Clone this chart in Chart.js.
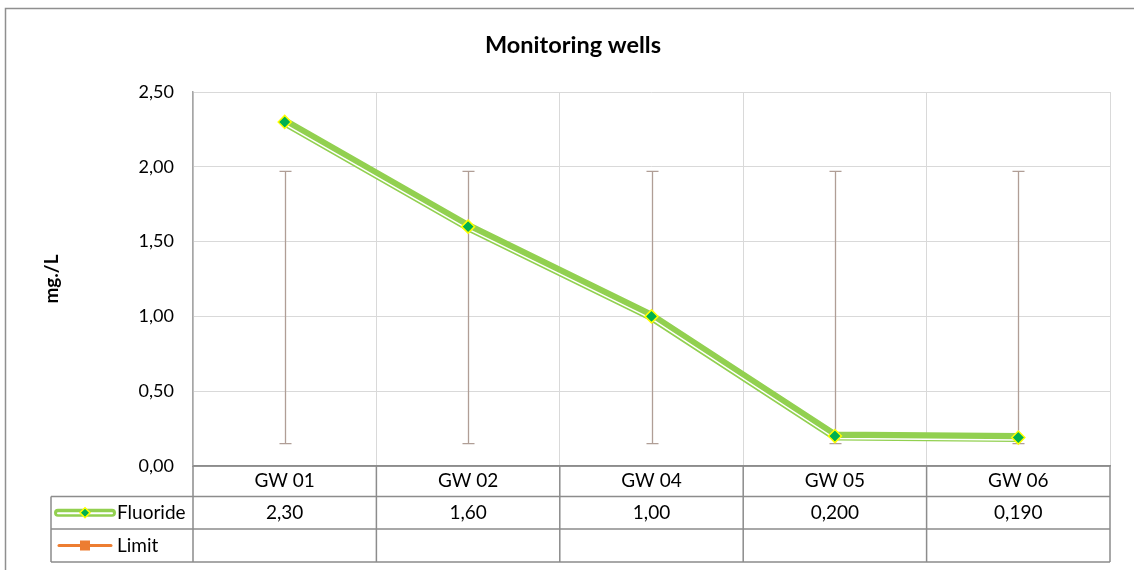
<!DOCTYPE html>
<html>
<head>
<meta charset="utf-8">
<script src="https://cdn.jsdelivr.net/npm/chart.js@4.4.0/dist/chart.umd.min.js"></script>
<style>
    html, body { margin: 0; padding: 0; background: #fff; }
    #wrap { position: relative; width: 1134px; height: 570px; }
</style>
</head>
<body>
<div id="wrap"><canvas id="chart"></canvas></div>
<script>
// data
const wells = ["GW 01", "GW 02", "GW 04", "GW 05", "GW 06"];
const fluoride = [2.30, 1.60, 1.00, 0.200, 0.190];
const limit = [null, null, null, null, null];
const rangeLow = [0.15, 0.15, 0.15, 0.15, 0.15];
const rangeHigh = [1.97, 1.97, 1.97, 1.97, 1.97];
const yTicks = [0, 0.5, 1, 1.5, 2, 2.5];

const FONT = "Lato";
const GREEN = "#92d050";
const DOT = "#00b050";
const DOT_EDGE = "#ffff00";
const ORANGE = "#ed7d31";
const TABLE = "#8c8c8c";
const GRID = "#d9d9d9";
const WHISKER = "#b09e96";

const comma = (s) => s.replace(".", ",");
const cellText = (v) => v == null ? "" : comma(v.toPrecision(3));

// draws a dataset moved down a bit (inner white stripe of the double line)
const shiftPlugin = {
    id: "shift",
    beforeDatasetDraw(chart, args) {
        const ds = chart.data.datasets[args.index];
        if (ds.shiftY) {
            chart.ctx.save();
            chart.ctx.translate(0, ds.shiftY);
        }
    },
    afterDatasetDraw(chart, args) {
        if (chart.data.datasets[args.index].shiftY) chart.ctx.restore();
    }
};

const framePlugin = {
    id: "frame",
    beforeDraw(chart) {
        const ctx = chart.ctx;
        ctx.save();
        ctx.strokeStyle = "#8f8f8f";
        ctx.lineWidth = 1.5;
        ctx.strokeRect(5.5, 8.5, 1400, 800);
        ctx.fillStyle = "#000";
        ctx.font = `bold 23.5px ${FONT}`;
        ctx.textAlign = "center";
        ctx.textBaseline = "middle";
        ctx.fillText("Monitoring wells", 573, 45);
        ctx.restore();
    }
};

const whiskerPlugin = {
    id: "whiskers",
    beforeDatasetsDraw(chart) {
        const {ctx, scales: {x, y}} = chart;
        ctx.save();
        ctx.strokeStyle = WHISKER;
        ctx.lineWidth = 1.3;
        for (let i = 0; i < wells.length; i++) {
            const px = Math.round(x.getPixelForValue(i)) + 0.5;
            const hi = y.getPixelForValue(rangeHigh[i]);
            const lo = y.getPixelForValue(rangeLow[i]);
            ctx.beginPath();
            ctx.moveTo(px, hi);
            ctx.lineTo(px, lo);
            ctx.moveTo(px - 6, hi);
            ctx.lineTo(px + 6, hi);
            ctx.moveTo(px - 6, lo);
            ctx.lineTo(px + 6, lo);
            ctx.stroke();
        }
        ctx.restore();
    }
};

function drawLegendKey(ctx, kind, cx, cy) {
    ctx.save();
    if (kind === "fluoride") {
        ctx.lineCap = "round";
        ctx.strokeStyle = GREEN;
        ctx.lineWidth = 8;
        ctx.beginPath();
        ctx.moveTo(cx - 27, cy);
        ctx.lineTo(cx + 27, cy);
        ctx.stroke();
        ctx.strokeStyle = "#fff";
        ctx.lineWidth = 2;
        ctx.beginPath();
        ctx.moveTo(cx - 27, cy + 0.5);
        ctx.lineTo(cx + 27, cy + 0.5);
        ctx.stroke();
        ctx.fillStyle = DOT;
        ctx.strokeStyle = DOT_EDGE;
        ctx.lineWidth = 1.5;
        ctx.beginPath();
        ctx.moveTo(cx, cy - 5);
        ctx.lineTo(cx + 5, cy);
        ctx.lineTo(cx, cy + 5);
        ctx.lineTo(cx - 5, cy);
        ctx.closePath();
        ctx.fill();
        ctx.stroke();
    } else {
        ctx.lineCap = "round";
        ctx.strokeStyle = ORANGE;
        ctx.lineWidth = 3;
        ctx.beginPath();
        ctx.moveTo(cx - 26, cy);
        ctx.lineTo(cx + 26, cy);
        ctx.stroke();
        ctx.fillStyle = ORANGE;
        ctx.fillRect(cx - 5, cy - 5, 10, 10);
    }
    ctx.restore();
}

// Excel-style data table under the plot
const tablePlugin = {
    id: "dataTable",
    afterDraw(chart) {
        const {ctx, chartArea: area, scales: {x}} = chart;
        const rowH = [30.5, 32.5, 33];
        const legendLeft = 51;
        const top = area.bottom;
        const r1 = top + rowH[0];
        const r2 = r1 + rowH[1];
        const r3 = r2 + rowH[2];
        const n = wells.length;
        const cw = (area.right - area.left) / n;

        ctx.save();
        ctx.strokeStyle = TABLE;
        ctx.lineWidth = 1.5;
        ctx.beginPath();
        ctx.moveTo(area.left, top);
        ctx.lineTo(area.right, top);
        for (const ry of [r1, r2, r3]) {
            ctx.moveTo(legendLeft, ry);
            ctx.lineTo(area.right, ry);
        }
        for (let k = 0; k <= n; k++) {
            const vx = area.left + k * cw;
            ctx.moveTo(vx, top);
            ctx.lineTo(vx, r3);
        }
        ctx.moveTo(legendLeft, r1);
        ctx.lineTo(legendLeft, r3);
        ctx.stroke();

        ctx.fillStyle = "#000";
        ctx.font = `19px ${FONT}`;
        ctx.textBaseline = "middle";
        ctx.textAlign = "center";
        for (let i = 0; i < n; i++) {
            const cx = x.getPixelForValue(i);
            ctx.fillText(wells[i], cx, top + rowH[0] / 2);
            ctx.fillText(cellText(fluoride[i]), cx, r1 + rowH[1] / 2);
            ctx.fillText(cellText(limit[i]), cx, r2 + rowH[2] / 2);
        }
        ctx.textAlign = "left";
        ctx.fillText("Fluoride", 117, r1 + rowH[1] / 2);
        ctx.fillText("Limit", 117, r2 + rowH[2] / 2);
        ctx.restore();

        drawLegendKey(ctx, "fluoride", 85, r1 + rowH[1] / 2);
        drawLegendKey(ctx, "limit", 85, r2 + rowH[2] / 2);
    }
};

new Chart(document.getElementById("chart"), {
    type: "line",
    data: {
        labels: wells,
        datasets: [
            {
                label: "Fluoride",
                data: fluoride,
                showLine: false,
                pointStyle: "rectRot",
                pointRadius: 6.5,
                pointBackgroundColor: DOT,
                pointBorderColor: DOT_EDGE,
                pointBorderWidth: 1.5,
                clip: false,
            },
            {
                label: "Fluoride inner",
                data: fluoride,
                borderColor: "#ffffff",
                borderWidth: 1.5,
                pointRadius: 0,
                shiftY: 2.5,
            },
            {
                label: "Fluoride line",
                data: fluoride,
                borderColor: GREEN,
                borderWidth: 9,
                borderJoinStyle: "round",
                borderCapStyle: "round",
                pointRadius: 0,
            },
            {
                label: "Limit",
                data: limit,
                borderColor: ORANGE,
                backgroundColor: ORANGE,
                borderWidth: 3,
                pointStyle: "rect",
                pointRadius: 5,
            },
        ]
    },
    options: {
        responsive: true,
        maintainAspectRatio: false,
        animation: false,
        layout: {
            padding: {left: 0, right: 24, top: 92, bottom: 0}
        },
        scales: {
            x: {
                offset: true,
                ticks: {display: false},
                grid: {
                    offset: true,
                    color: GRID,
                    drawTicks: false,
                },
                border: {color: TABLE, width: 1.5},
                afterFit: (scale) => { scale.height = 104; },
            },
            y: {
                min: 0,
                max: 2.5,
                afterBuildTicks: (scale) => {
                    scale.ticks = yTicks.map(v => ({value: v}));
                },
                ticks: {
                    color: "#000",
                    padding: 19,
                    font: {family: FONT, size: 18},
                    callback: (value) => comma(Number(value).toFixed(2)),
                },
                grid: {
                    color: GRID,
                    drawTicks: false,
                },
                border: {color: "#a6a6a6", width: 1.5},
                title: {
                    display: true,
                    text: "mg./L",
                    color: "#000",
                    font: {family: FONT, size: 19, weight: "bold"},
                    padding: {top: 40, bottom: 0},
                },
                afterFit: (scale) => { scale.width = 193; },
            }
        },
        plugins: {
            legend: {display: false},
            title: {display: false},
            tooltip: {enabled: false},
        }
    },
    plugins: [framePlugin, whiskerPlugin, shiftPlugin, tablePlugin]
});
</script>
</body>
</html>
